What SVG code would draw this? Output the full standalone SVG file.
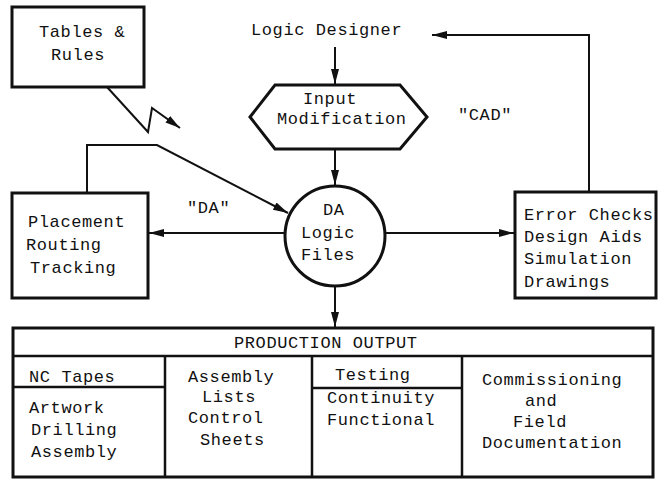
<svg xmlns="http://www.w3.org/2000/svg" width="658" height="479" viewBox="0 0 658 479">
<defs>
<style>
text{font-family:"Liberation Mono","Courier New",monospace;font-size:17px;letter-spacing:0.6px;fill:#111}
.box{fill:#fff;stroke:#111;stroke-width:3}
.ln{fill:none;stroke:#111;stroke-width:2;stroke-linejoin:miter}
.grid{fill:none;stroke:#111;stroke-width:2.5}
</style>
<marker id="ah" markerUnits="userSpaceOnUse" markerWidth="16" markerHeight="10" refX="15" refY="5" orient="auto">
<path d="M0,1 L15,5 L0,9 Z" fill="#111"/>
</marker>
</defs>
<rect width="658" height="479" fill="#fff"/>

<g id="connectors">
<path class="ln" d="M335,47 L335,84" marker-end="url(#ah)"/>
<path class="ln" d="M335,149 L335,185" marker-end="url(#ah)"/>
<path class="ln" d="M335,287 L335,327" marker-end="url(#ah)"/>
<path class="ln" d="M286,233 L149,233" marker-end="url(#ah)"/>
<path class="ln" d="M384,233 L514,233" marker-end="url(#ah)"/>
<path class="ln" d="M589,192 L589,35 L432,35" marker-end="url(#ah)"/>
<path class="ln" d="M87,193 L87,145 L157,145 L288,213" marker-end="url(#ah)"/>
<path class="ln" d="M107,87 L148,132 L152,108 L180,128" marker-end="url(#ah)"/>
</g>

<g id="tables-rules">
<rect class="box" x="12" y="7" width="132" height="80"/>
<text x="39" y="37">Tables &amp;</text>
<text x="51" y="60">Rules</text>
</g>

<g id="logic-designer">
<text x="251" y="35">Logic Designer</text>
</g>

<g id="input-modification">
<polygon class="box" points="250,117 275,85 400,85 427,117 400,149 275,149"/>
<text x="303" y="104">Input</text>
<text x="277" y="124">Modification</text>
</g>

<g id="cad-label"><text x="458" y="120">"CAD"</text></g>
<g id="da-label"><text x="187" y="213">"DA"</text></g>

<g id="da-logic-files">
<circle class="box" cx="335" cy="236" r="50"/>
<text x="323" y="215">DA</text>
<text x="301" y="238">Logic</text>
<text x="301" y="260">Files</text>
</g>

<g id="placement">
<rect class="box" x="12" y="193" width="136" height="105"/>
<text x="28" y="227">Placement</text>
<text x="26" y="250">Routing</text>
<text x="30" y="273">Tracking</text>
</g>

<g id="error-checks">
<rect class="box" x="515" y="192" width="141" height="106"/>
<text x="524" y="220">Error Checks</text>
<text x="524" y="242">Design Aids</text>
<text x="524" y="264">Simulation</text>
<text x="524" y="287">Drawings</text>
</g>

<g id="production-output">
<rect class="box" x="13" y="328" width="640" height="149"/>
<path class="grid" d="M13,356 L653,356 M165,356 L165,477 M312,356 L312,477 M462,356 L462,477 M13,387 L165,387 M312,388 L462,388"/>
<text x="234" y="348">PRODUCTION OUTPUT</text>
<text x="29" y="382">NC Tapes</text>
<text x="29" y="413">Artwork</text>
<text x="31" y="435">Drilling</text>
<text x="31" y="457">Assembly</text>
<text x="188" y="382">Assembly</text>
<text x="202" y="402">Lists</text>
<text x="188" y="423">Control</text>
<text x="200" y="445">Sheets</text>
<text x="335" y="380">Testing</text>
<text x="327" y="403">Continuity</text>
<text x="327" y="425">Functional</text>
<text x="482" y="385">Commissioning</text>
<text x="525" y="406">and</text>
<text x="513" y="427">Field</text>
<text x="482" y="448">Documentation</text>
</g>
</svg>
